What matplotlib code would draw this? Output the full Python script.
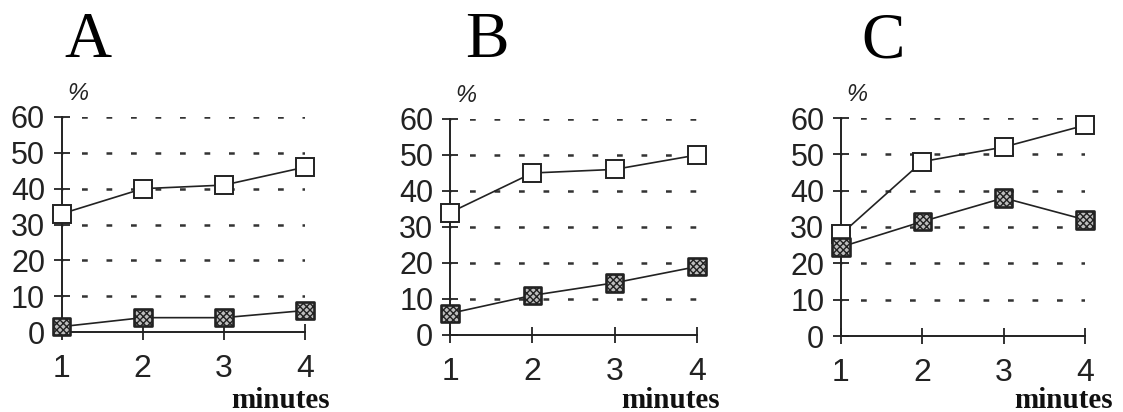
import matplotlib
matplotlib.use("Agg")
import matplotlib.pyplot as plt

# values
minutes = [1, 2, 3, 4]
panel_letters = ["A", "B", "C"]
open_series = [
    [33, 40, 41, 46],
    [34, 45, 46, 50],
    [28, 48, 52, 58],
]
filled_series = [
    [1.5, 4, 4, 6],
    [6, 11, 14.5, 19],
    [24.5, 31.5, 38, 32],
]
y_ticks = [0, 10, 20, 30, 40, 50, 60]
x_ticks = [1, 2, 3, 4]

plt.rcParams["hatch.linewidth"] = 1.0

W, H = 1123, 412
fig = plt.figure(figsize=(W / 100, H / 100), dpi=100)

# axes boxes in pixels: (x at 1, x at 4, y at 0, y at 60)
boxes = [(61.7, 305, 332, 117), (450, 697, 335, 119), (841, 1085, 336, 118)]
letter_x = [88, 487, 883]
word_right = [330, 720, 1113]

for i, (x0, x1, y0, y1) in enumerate(boxes):
    ax = fig.add_axes([x0 / W, (H - y0) / H, (x1 - x0) / W, (y0 - y1) / H])
    ax.set_xlim(1, 4)
    ax.set_ylim(0, 60)
    for s in ["top", "right"]:
        ax.spines[s].set_visible(False)
    for s in ["left", "bottom"]:
        ax.spines[s].set_linewidth(1.4)
        ax.spines[s].set_color("#222222")

    # dashed guide lines
    ax.hlines(y_ticks[1:], 1, 4, colors="#333333", linewidth=1.8,
              linestyles=(2, (2.3, 7.5)), zorder=1)

    ax.plot(minutes, open_series[i], color="#222222", linewidth=1.2,
            marker="s", markersize=13, markerfacecolor="white",
            markeredgecolor="#222222", markeredgewidth=1.4,
            clip_on=False, zorder=3)
    ax.plot(minutes, filled_series[i], color="#222222", linewidth=1.2,
            clip_on=False, zorder=3)
    ax.scatter(minutes, filled_series[i], marker="s", s=160,
               facecolor="#bdbdbd", edgecolor="#222222", hatch="xxxxx",
               linewidth=1.9, clip_on=False, zorder=4)

    ax.set_yticks(y_ticks)
    ax.set_xticks(x_ticks)
    ax.tick_params(axis="y", direction="inout", length=12, width=1.3,
                   pad=6, labelsize=22, colors="#222222")
    ax.tick_params(axis="x", direction="inout", length=12, width=1.3,
                   pad=10, labelsize=23, colors="#222222")
    for lab in ax.get_xticklabels() + ax.get_yticklabels():
        lab.set_family("Liberation Sans")

    ax.text(0.065, 1.11, "%", transform=ax.transAxes, ha="center",
            va="center", fontsize=17, style="italic",
            family="Liberation Sans", color="#222222")
    fig.text(word_right[i] / W, (H - 408) / H, "minutes", ha="right",
             va="baseline", fontsize=21, fontweight="bold",
             family="Liberation Serif", color="#111111")

    fig.text(letter_x[i] / W, (H - 57) / H, panel_letters[i], ha="center",
             va="baseline", fontsize=47, family="Liberation Serif",
             color="black")

fig.savefig("out.png", dpi=100)
